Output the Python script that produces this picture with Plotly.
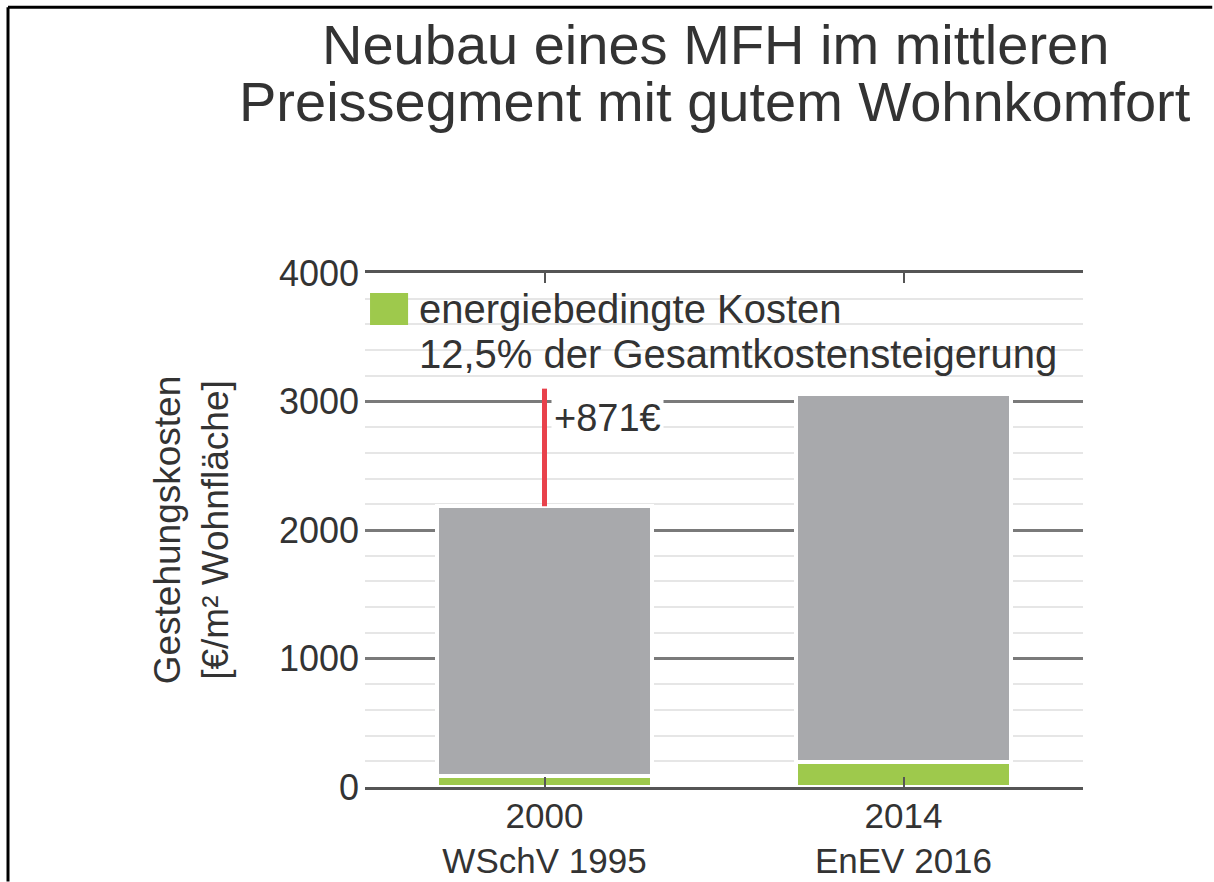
import plotly.graph_objs as go

# data
categories = ["2000<br>WSchV 1995", "2014<br>EnEV 2016"]
energy_costs = [87, 195]          # energiebedingte Kosten
other_costs = [2098, 2861]        # rest of Gestehungskosten
increase_label = "+871€"
increase_y = [2185, 3100]         # red marker from old total upwards

title_lines = ["Neubau eines MFH im mittleren", "Preissegment mit gutem Wohnkomfort"]
legend_lines = ["energiebedingte Kosten", "12,5% der Gesamtkostensteigerung"]
y_title = "Gestehungskosten<br>[€/m² Wohnfläche]"
y_ticks = [0, 1000, 2000, 3000, 4000]

GREEN = "#9ec94c"
GRAY = "#a8a9ac"
RED = "#e8414b"
TEXT = "#333333"
FONT = "Liberation Sans, Arial, sans-serif"

fig = go.Figure()

fig.add_trace(go.Bar(
    x=categories,
    y=energy_costs,
    marker=dict(color=GREEN, line=dict(color="white", width=3.5)),
    width=0.6,
    showlegend=False
))

fig.add_trace(go.Bar(
    x=categories,
    y=other_costs,
    marker=dict(color=GRAY, line=dict(color="white", width=3.5)),
    width=0.6,
    showlegend=False
))

fig.add_trace(go.Scatter(
    x=[categories[0], categories[0]],
    y=increase_y,
    mode="lines",
    line=dict(color=RED, width=5),
    showlegend=False
))

fig.update_layout(
    width=1214,
    height=882,
    barmode="stack",
    paper_bgcolor="white",
    plot_bgcolor="white",
    font=dict(family=FONT, color=TEXT, size=37),
    margin=dict(l=365, r=131, t=273, b=95),
    showlegend=False
)

fig.update_xaxes(
    range=[-0.5, 1.5],
    automargin=False,
    showline=True, linecolor="#555555", linewidth=2.5,
    ticks="inside", ticklen=10, tickcolor="#555555", tickwidth=2,
    mirror="ticks",
    showgrid=False,
    ticklabelstandoff=-4,
    tickfont=dict(size=35, color=TEXT)
)

fig.update_yaxes(
    range=[0, 4000],
    automargin=False,
    tickvals=y_ticks,
    showgrid=True, gridcolor="#7a7a7a", gridwidth=2.5,
    minor=dict(dtick=200, showgrid=True, gridcolor="#e6e6e6", gridwidth=1.5),
    zeroline=False,
    ticks="",
    ticklabelstandoff=5,
    tickfont=dict(size=36, color=TEXT),
    title=dict(text=y_title, standoff=38, font=dict(size=37, color=TEXT))
)

# two-line title, set as separate lines to get the tight line spacing
fig.add_annotation(text=title_lines[0], xref="paper", yref="paper",
                   x=0.4875, y=1.4436, xanchor="center", yanchor="middle",
                   showarrow=False, font=dict(size=56, color=TEXT))
fig.add_annotation(text=title_lines[1], xref="paper", yref="paper",
                   x=0.4875, y=1.3346, xanchor="center", yanchor="middle",
                   showarrow=False, font=dict(size=56, color=TEXT))

# white backing for the legend text, hides the minor grid there
fig.add_shape(type="rect", xref="paper", yref="y",
              x0=0.0, x1=0.975, y0=3090, y1=3985,
              fillcolor="white", line=dict(width=0), layer="between")

# legend swatch and text
fig.add_shape(type="rect", xref="paper", yref="paper",
              x0=0.007, x1=0.06, y0=0.899, y1=0.961,
              fillcolor=GREEN, line=dict(width=0))
fig.add_annotation(text=legend_lines[0], xref="paper", yref="paper",
                   x=0.072, y=0.93, xanchor="left", yanchor="middle",
                   showarrow=False, font=dict(size=40, color=TEXT))
fig.add_annotation(text=legend_lines[1], xref="paper", yref="paper",
                   x=0.072, y=0.842, xanchor="left", yanchor="middle",
                   showarrow=False, font=dict(size=40, color=TEXT))

# label of the cost increase
fig.add_annotation(text=increase_label, x=categories[0], y=2870,
                   xanchor="left", yanchor="middle", xshift=6,
                   showarrow=False, bgcolor="white", borderpad=2,
                   font=dict(size=38, color=TEXT))

# frame of the original picture (left and top edge), kept inside the canvas
fig.add_shape(type="line", xref="paper", yref="paper",
              x0=-0.4972, x1=-0.4972, y0=-0.184, y1=1.517,
              line=dict(color="black", width=3))
fig.add_shape(type="line", xref="paper", yref="paper",
              x0=-0.4972, x1=1.18, y0=1.517, y1=1.517,
              line=dict(color="black", width=3))

fig.write_html("out.html", config={"displayModeBar": False},
               post_script="document.body.style.margin='0';")
